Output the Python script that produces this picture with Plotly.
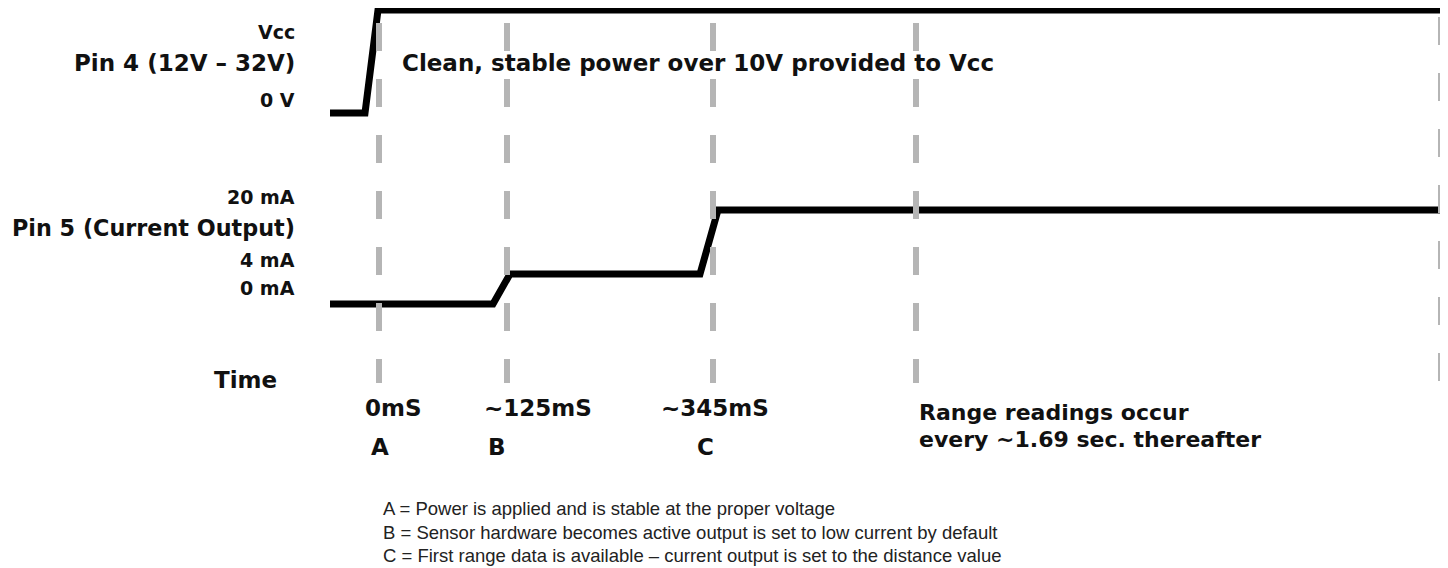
import plotly.graph_objects as go

# ---- data (diagram units: x = horizontal position, y = vertical position, top=0) ----
vcc_x = [330, 365, 378, 1444]
vcc_y = [113, 113, 10, 10]

cur_x = [330, 493, 510, 700, 718, 1440]
cur_y = [304, 304, 274, 274, 210, 210]

marker_x = [379, 507, 713, 916, 1441]
marker_top = [23, 23, 23, 23, 17]
marker_bottom = 383

left_labels = ["Vcc", "Pin 4 (12V \u2013 32V)", "0 V", "20 mA", "Pin 5 (Current Output)", "4 mA", "0 mA"]
left_label_y = [32, 63, 100, 197, 228, 260, 288]
left_label_size = [19, 23, 19, 19, 22.3, 19, 19]

time_labels = ["0mS", "~125mS", "~345mS"]
time_label_x = [393, 538, 715]
event_letters = ["A", "B", "C"]
event_letter_x = [380, 497, 705]

footnotes = [
    "A = Power is applied and is stable at the proper voltage",
    "B = Sensor hardware becomes active output is set to low current by default",
    "C = First range data is available \u2013 current output is set to the distance value",
]
footnote_y = [508, 532, 555]

BOLD = "DejaVu Sans, Liberation Sans, Arial, sans-serif"
REG = "Liberation Sans, Arial, sans-serif"
INK = "#111"

fig = go.Figure()

fig.add_trace(go.Scatter(x=vcc_x, y=vcc_y, mode="lines",
                         line=dict(color="black", width=7), hoverinfo="skip", showlegend=False))
fig.add_trace(go.Scatter(x=cur_x, y=cur_y, mode="lines",
                         line=dict(color="black", width=7), hoverinfo="skip", showlegend=False))

for mx, mt in zip(marker_x, marker_top):
    fig.add_trace(go.Scatter(x=[mx, mx], y=[mt, marker_bottom], mode="lines",
                             line=dict(color="#b5b5b5", width=6, dash="28px,28px"),
                             hoverinfo="skip", showlegend=False))

for t, y, s in zip(left_labels, left_label_y, left_label_size):
    fig.add_annotation(x=297, y=y, text="<b>%s</b>" % t, showarrow=False, xanchor="right",
                       yanchor="middle", font=dict(family=BOLD, size=s, color=INK))

fig.add_annotation(x=400, y=63, text="<b>Clean, stable power over 10V provided to Vcc</b>",
                   showarrow=False, xanchor="left", yanchor="middle",
                   font=dict(family=BOLD, size=23, color=INK))

fig.add_annotation(x=245, y=380, text="<b>Time</b>", showarrow=False, xanchor="center",
                   yanchor="middle", font=dict(family=BOLD, size=23, color=INK))

for t, x in zip(time_labels, time_label_x):
    fig.add_annotation(x=x, y=408, text="<b>%s</b>" % t, showarrow=False, xanchor="center",
                       yanchor="middle", font=dict(family=BOLD, size=23, color=INK))
for t, x in zip(event_letters, event_letter_x):
    fig.add_annotation(x=x, y=447, text="<b>%s</b>" % t, showarrow=False, xanchor="center",
                       yanchor="middle", font=dict(family=BOLD, size=23, color=INK))

fig.add_annotation(x=917, y=412, text="<b>Range readings occur</b>", showarrow=False,
                   xanchor="left", yanchor="middle", font=dict(family=BOLD, size=22, color=INK))
fig.add_annotation(x=917, y=439, text="<b>every ~1.69 sec. thereafter</b>", showarrow=False,
                   xanchor="left", yanchor="middle", font=dict(family=BOLD, size=22, color=INK))

for t, y in zip(footnotes, footnote_y):
    fig.add_annotation(x=381, y=y, text=t, showarrow=False, xanchor="left", yanchor="middle",
                       font=dict(family=REG, size=18.5, color="#222"))

# page has an 8px body margin, so offset the ranges to keep 1 unit = 1 pixel from the page corner
fig.update_layout(
    width=1440, height=560,
    margin=dict(l=0, r=0, t=0, b=0),
    paper_bgcolor="white", plot_bgcolor="white",
    xaxis=dict(range=[8, 1448], visible=False, fixedrange=True),
    yaxis=dict(range=[568, 8], visible=False, fixedrange=True),
)

fig.write_html("out.html")
